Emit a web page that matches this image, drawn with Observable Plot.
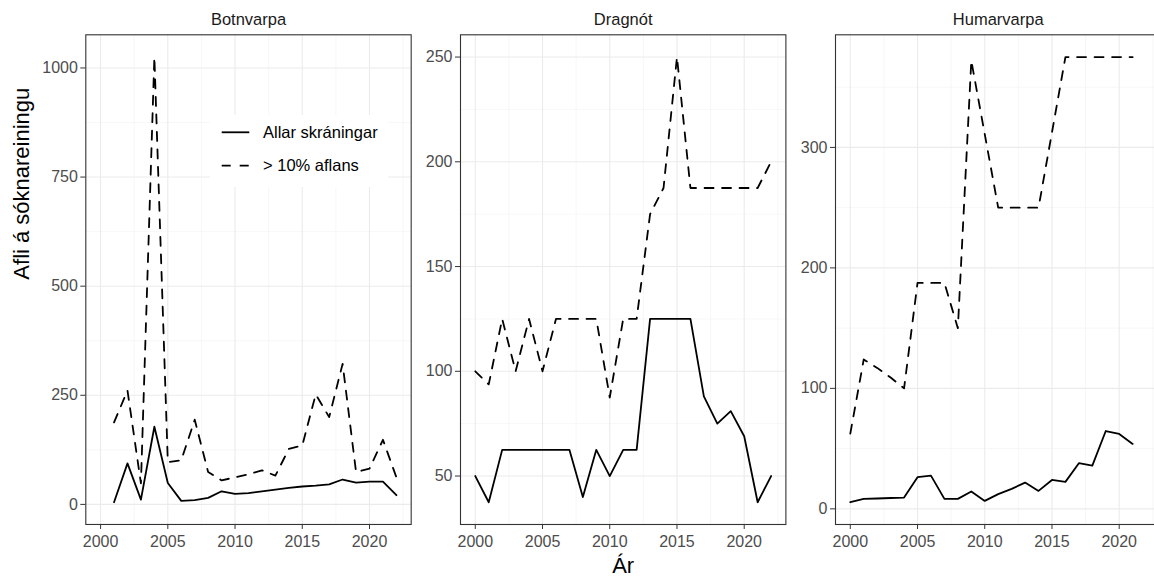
<!DOCTYPE html>
<html><head><meta charset="utf-8">
<script src="https://cdn.jsdelivr.net/npm/d3@7"></script>
<script src="https://cdn.jsdelivr.net/npm/@observablehq/plot@0.6"></script>
<style>
body{margin:0;background:#fff;overflow:hidden;}
#wrap{position:relative;width:1154px;height:577px;overflow:hidden;font-family:"Liberation Sans",Arial,sans-serif;background:#fff;}
#wrap svg.panel{position:absolute;top:0;}
#legend{position:absolute;left:210px;top:115px;width:178px;height:72px;background:#fff;}
#legend .lab{position:absolute;left:53px;font-size:16.5px;color:#000;line-height:1;white-space:nowrap;}
</style></head><body><div id="wrap">
<div id="legend">
<svg width="178" height="72" style="position:absolute;left:0;top:0">
<line x1="11.7" x2="39.3" y1="17.3" y2="17.3" stroke="#000" stroke-width="1.8"/>
<line x1="11.7" x2="39.3" y1="50.7" y2="50.7" stroke="#000" stroke-width="1.8" stroke-dasharray="9,9"/>
</svg>
<div class="lab" style="top:9px">Allar skráningar</div>
<div class="lab" style="top:42px">&gt; 10% aflans</div>
</div>
</div>
<script>
// ---- data ----
const botnYears   = [2001,2002,2003,2004,2005,2006,2007,2008,2009,2010,2011,2012,2013,2014,2015,2016,2017,2018,2019,2020,2021,2022];
const botnAll     = [5,94,11,178,49,8,10,15,30,24,26,30,34,38,41,43,46,57,50,52,52,21];
const botnTen     = [188,261,48,1025,97,101,194,74,55,62,69,78,66,127,135,252,200,322,74,82,148,62];

const dragYears   = [2000,2001,2002,2003,2004,2005,2006,2007,2008,2009,2010,2011,2012,2013,2014,2015,2016,2017,2018,2019,2020,2021,2022];
const dragAll     = [50,37.5,62.5,62.5,62.5,62.5,62.5,62.5,40,62.5,50,62.5,62.5,125,125,125,125,88,75,81,69,37.5,50];
const dragTen     = [100,93.75,125,100,125,100,125,125,125,125,87.5,125,125,175,187.5,250,187.5,187.5,187.5,187.5,187.5,187.5,200];

const humYears    = [2000,2001,2002,2003,2004,2005,2006,2007,2008,2009,2010,2011,2012,2013,2014,2015,2016,2017,2018,2019,2020,2021];
const humAll      = [5.5,8.3,8.6,9,9.4,26.3,27.6,8.3,8.3,14.4,6.6,12.2,16.6,21.8,14.9,24,22.4,37.9,35.9,64.6,62.2,53.9];
const humTen      = [62.5,124,117,109,100,187.5,187.5,187.5,150,372,311,250,250,250,250,312.5,375,375,375,375,375,375];

const panelTitles = ["Botnvarpa","Dragnót","Humarvarpa"];
const xMajor = [2000,2005,2010,2015,2020];
const xMinor = [2002.5,2007.5,2012.5,2017.5,2022.5];
const botnYMajor = [0,250,500,750,1000], botnYMinor = [125,375,625,875];
const dragYMajor = [50,100,150,200,250], dragYMinor = [75,125,175,225];
const humYMajor  = [0,100,200,300],      humYMinor  = [50,150,250,350];
const yTitle = "Afli á sóknareiningu";
const xTitle = "Ár";

// ---- helpers ----
function expand(vals){
  const lo = d3.min(vals), hi = d3.max(vals), e = (hi-lo)*0.05;
  return [lo-e, hi+e];
}
const allYears = [...botnYears, ...dragYears, ...humYears];
const xDomain = expand(allYears);

const PW = 325.4;
const MT = 34.3, MB = 53, H = 577;
const font = "Liberation Sans, Arial, sans-serif";

function panel({years, all, ten, yMaj, yMin, title, left, ml, extra}){
  const rowsAll = years.map((y,i)=>({year:y, v:all[i]}));
  const rowsTen = years.map((y,i)=>({year:y, v:ten[i]}));
  const mr = 10;
  const p = Plot.plot({
    width: ml + PW + mr, height: H,
    marginLeft: ml, marginRight: mr, marginTop: MT, marginBottom: MB,
    x: {domain: xDomain},
    y: {domain: expand([...all, ...ten])},
    style: {fontFamily: font, background: "transparent", overflow: "visible"},
    marks: [
      Plot.gridX(xMinor, {stroke:"#f2f2f2", strokeOpacity:1, strokeWidth:0.6}),
      Plot.gridY(yMin, {stroke:"#f2f2f2", strokeOpacity:1, strokeWidth:0.6}),
      Plot.gridX(xMajor, {stroke:"#ebebeb", strokeOpacity:1, strokeWidth:1.1}),
      Plot.gridY(yMaj, {stroke:"#ebebeb", strokeOpacity:1, strokeWidth:1.1}),
      Plot.line(rowsTen, {x:"year", y:"v", stroke:"#000", strokeWidth:1.8, strokeDasharray:"9,8.5"}),
      Plot.line(rowsAll, {x:"year", y:"v", stroke:"#000", strokeWidth:1.8}),
      Plot.frame({stroke:"#333", strokeWidth:1.1}),
      Plot.axisX(xMajor, {tickFormat: d=>String(d), tickSize:5, tickPadding:6, fontSize:16, fill:"#4d4d4d", stroke:"#333", label:null}),
      Plot.axisY(yMaj, {tickFormat: d=>String(d), tickSize:5, tickPadding:3, fontSize:16, fill:"#4d4d4d", stroke:"#333", label:null}),
      Plot.text([title], {text:d=>d, frameAnchor:"top", dy:-15, fontSize:16.5, fill:"#1a1a1a", lineAnchor:"middle"}),
      ...(extra||[])
    ]
  });
  p.classList.add("panel");
  p.style.left = left + "px";
  p.style.position = "absolute";
  p.style.top = "0px";
  p.style.maxWidth = "none";
  document.getElementById("wrap").appendChild(p);
}

panel({years:botnYears, all:botnAll, ten:botnTen, yMaj:botnYMajor, yMin:botnYMinor, title:panelTitles[0], left:0, ml:85.3,
  extra:[Plot.text([yTitle], {text:d=>d, frameAnchor:"left", dx:21-85.3, rotate:-90, fontSize:22, fill:"#000", lineAnchor:"middle"})]});
panel({years:dragYears, all:dragAll, ten:dragTen, yMaj:dragYMajor, yMin:dragYMinor, title:panelTitles[1], left:400, ml:60,
  extra:[Plot.text([xTitle], {text:d=>d, frameAnchor:"bottom", dy:41, fontSize:22, fill:"#000", lineAnchor:"middle"})]});
panel({years:humYears, all:humAll, ten:humTen, yMaj:humYMajor, yMin:humYMinor, title:panelTitles[2], left:775.3, ml:60});

// keep legend on top
const lg = document.getElementById("legend");
document.getElementById("wrap").appendChild(lg);
</script>
</body></html>
